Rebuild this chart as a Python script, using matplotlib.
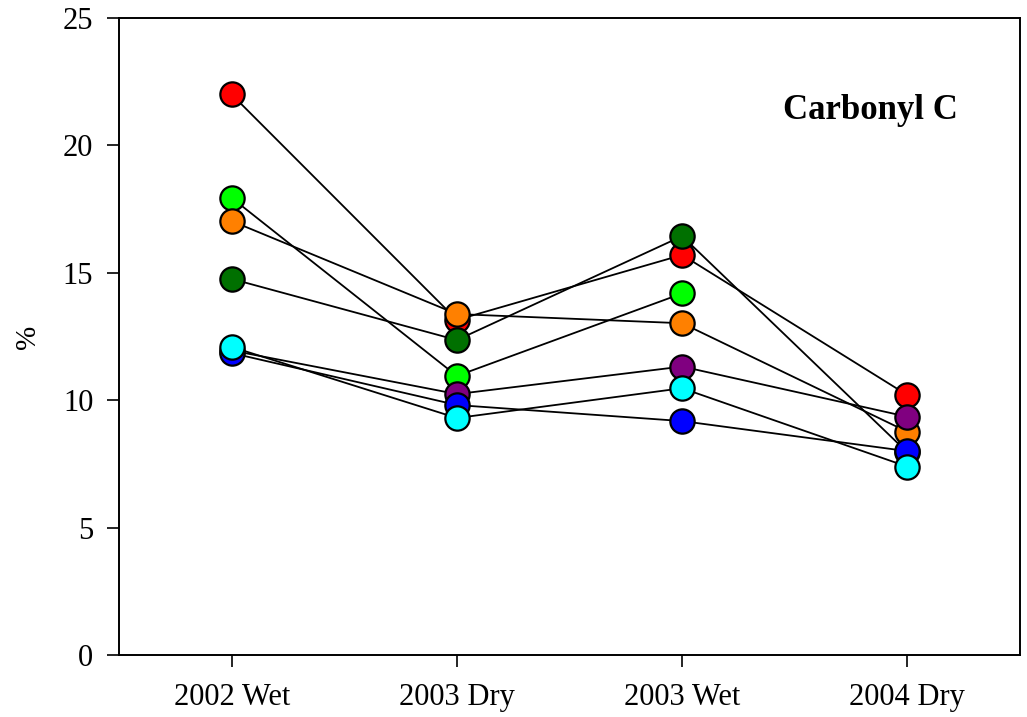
import numpy as np
import matplotlib
matplotlib.use("Agg")
import matplotlib.pyplot as plt

plt.rcParams['font.family'] = ['Liberation Serif', 'DejaVu Serif']

seasons = ['2002 Wet', '2003 Dry', '2003 Wet', '2004 Dry']

# series drawn in this order (later ones sit on top)
red = [22.0, 13.15, 15.7, 10.2]
lime = [17.94, 10.95, 14.19, np.nan]
orange = [17.03, 13.38, 13.02, 8.76]
dkgreen = [14.76, 12.36, 16.44, 7.95]
purple = [11.95, 10.24, 11.32, 9.35]
blue = [11.85, 9.81, 9.18, 8.0]
cyan = [12.09, 9.30, 10.47, 7.39]

series = [(red, '#FF0000'), (lime, '#00FF00'), (orange, '#FF8000'),
          (dkgreen, '#007000'), (purple, '#800080'), (blue, '#0000FF'),
          (cyan, '#00FFFF')]

fig = plt.figure(figsize=(10.27, 7.17), dpi=100)
ax = fig.add_axes([0.1159, 0.0865, 0.8773, 0.8884])

x = np.arange(len(seasons))
for vals, col in series:
    ax.plot(x, vals, color='black', lw=1.3, zorder=2)
for i, (vals, col) in enumerate(series):
    ax.plot(x, vals, ls='none', marker='o', ms=17.5, mfc=col, mec='black',
            mew=1.6, zorder=3 + i)

ax.set_xlim(-0.5, 3.5)
ax.set_ylim(0, 25)
ax.set_xticks(x)
ax.set_xticklabels(seasons, fontsize=22)
ax.set_yticks([0, 5, 10, 15, 20, 25])
ax.tick_params(axis='y', labelsize=22)
ax.tick_params(direction='out', length=8.5, width=1.2, pad=10)
ax.tick_params(axis='x', pad=12)
for s in ax.spines.values():
    s.set_linewidth(1.4)
ax.set_ylabel('%', fontsize=21, labelpad=16)

ax.text(0.931, 0.855, 'Carbonyl C', transform=ax.transAxes, ha='right',
        va='center', fontsize=25, fontweight='bold')

fig.savefig('out.png', dpi=100)
